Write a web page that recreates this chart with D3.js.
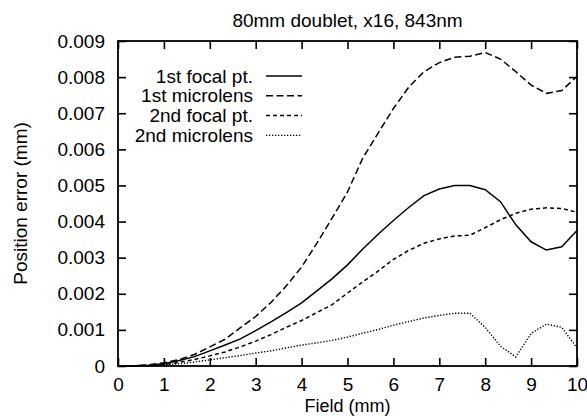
<!DOCTYPE html>
<html>
<head>
<meta charset="utf-8">
<script src="https://cdn.jsdelivr.net/npm/d3@7"></script>
<style>
    body { margin: 0; background: #fff; }
    svg { font-family: "Liberation Sans", Arial, Helvetica, sans-serif; }
    .axis path, .axis line { stroke: #000; }
    .axis text { font-size: 19px; fill: #000; }
</style>
</head>
<body>
<div id="chart"></div>
<script>
// field positions (mm), sampled every 1/3 mm
const field = [0, 0.333, 0.667, 1, 1.333, 1.667, 2, 2.333, 2.667, 3, 3.333, 3.667, 4, 4.333, 4.667, 5,
    5.333, 5.667, 6, 6.333, 6.667, 7, 7.333, 7.667, 8, 8.333, 8.667, 9, 9.333, 9.667, 10];

// position error (mm)
const firstFocal = [0, 0.000005, 0.00002, 0.00006, 0.00015, 0.00026, 0.00042, 0.00058, 0.00075, 0.00098, 0.00122, 0.00148, 0.00175, 0.00208, 0.00242, 0.0028,
    0.00324, 0.00365, 0.00403, 0.00439, 0.00472, 0.0049, 0.005, 0.005, 0.00488, 0.00455, 0.00391, 0.00344, 0.00321, 0.0033, 0.00375];
const firstMicro = [0, 0.000005, 0.00003, 0.00009, 0.00018, 0.00032, 0.00053, 0.00074, 0.00106, 0.00137, 0.00176, 0.00222, 0.00274, 0.0034, 0.0041, 0.00482,
    0.00576, 0.00645, 0.00713, 0.00772, 0.00815, 0.0084, 0.00855, 0.00858, 0.00868, 0.0085, 0.00815, 0.00778, 0.00755, 0.00763, 0.00802];
const secondFocal = [0, 0.000003, 0.00001, 0.00004, 0.0001, 0.00018, 0.00028, 0.00039, 0.00053, 0.00069, 0.00087, 0.00107, 0.00126, 0.00148, 0.0017, 0.00202,
    0.00233, 0.00263, 0.00295, 0.0032, 0.0034, 0.00352, 0.0036, 0.00362, 0.00383, 0.00405, 0.00423, 0.00434, 0.00438, 0.00436, 0.00426];
const secondMicro = [0, 0.000003, 0.00001, 0.00003, 0.00006, 0.00011, 0.00017, 0.00023, 0.00029, 0.00036, 0.00042, 0.0005, 0.00058, 0.00064, 0.00071, 0.0008,
    0.00091, 0.00101, 0.00113, 0.00123, 0.00133, 0.0014, 0.00146, 0.00146, 0.00107, 0.00055, 0.00025, 0.0009, 0.00116, 0.00107, 0.0005];

const seriesNames = ["1st focal pt.", "1st microlens", "2nd focal pt.", "2nd microlens"];
const seriesValues = [firstFocal, firstMicro, secondFocal, secondMicro];
const dashes = ["none", "7,3.5", "4,3", "1.3,1.7"];

const xTicks = [0, 1, 2, 3, 4, 5, 6, 7, 8, 9, 10];
const yTicks = [0, 0.001, 0.002, 0.003, 0.004, 0.005, 0.006, 0.007, 0.008, 0.009];

const titleText = "80mm doublet, x16, 843nm";
const xLabel = "Field (mm)";
const yLabel = "Position error (mm)";

let width = 587, height = 416;
let margin = { top: 41, right: 10, bottom: 50, left: 118 };
let innerW = width - margin.left - margin.right;
let innerH = height - margin.top - margin.bottom;

let svg = d3.select("#chart")
    .append("svg")
    .attr("width", width)
    .attr("height", height);

let g = svg.append("g")
    .attr("transform", `translate(${margin.left},${margin.top})`);

let x = d3.scaleLinear().domain([0, 10]).range([0, innerW]);
let y = d3.scaleLinear().domain([0, 0.009]).range([innerH, 0]);

let tickLen = 8;

// bottom axis with labels, ticks pointing inward
g.append("g")
    .attr("class", "axis x-axis")
    .attr("transform", "translate(0," + innerH + ")")
    .call(d3.axisBottom(x).tickValues(xTicks).tickSizeInner(-tickLen).tickSizeOuter(0).tickPadding(12).tickFormat(d => d))
    .call(a => a.select(".domain").remove());

// top mirror ticks
g.append("g")
    .attr("class", "axis")
    .call(d3.axisTop(x).tickValues(xTicks).tickSizeInner(-tickLen).tickSizeOuter(0).tickFormat(""))
    .call(a => a.select(".domain").remove());

// left axis with labels
g.append("g")
    .attr("class", "axis y-axis")
    .call(d3.axisLeft(y).tickValues(yTicks).tickSizeInner(-tickLen).tickSizeOuter(0).tickPadding(13).tickFormat(d => d === 0 ? "0" : d3.format(".3f")(d)))
    .call(a => a.select(".domain").remove());

// right mirror ticks
g.append("g")
    .attr("class", "axis")
    .attr("transform", "translate(" + innerW + ",0)")
    .call(d3.axisRight(y).tickValues(yTicks).tickSizeInner(-tickLen).tickSizeOuter(0).tickFormat(""))
    .call(a => a.select(".domain").remove());

g.selectAll(".axis .tick line").attr("stroke-width", 1.6);

// frame
g.append("rect")
    .attr("width", innerW)
    .attr("height", innerH)
    .attr("fill", "none")
    .attr("stroke", "#000")
    .attr("stroke-width", 1.8);

// curves
let line = d3.line()
    .x((d, i) => x(field[i]))
    .y(d => y(d));

g.selectAll("path.curve")
    .data(seriesValues)
    .enter()
    .append("path")
    .attr("class", "curve")
    .attr("d", d => line(d))
    .attr("fill", "none")
    .attr("stroke", "#000")
    .attr("stroke-width", (d, i) => i === 3 ? 1.4 : 1.5)
    .attr("stroke-dasharray", (d, i) => dashes[i]);

// legend
let key = g.append("g")
    .attr("transform", "translate(0, 35)");

let rows = key.selectAll("g.row")
    .data(seriesNames)
    .enter()
    .append("g")
    .attr("class", "row")
    .attr("transform", (d, i) => "translate(0," + (i * 19.8) + ")");

rows.append("text")
    .attr("x", 135)
    .attr("dy", "0.35em")
    .attr("text-anchor", "end")
    .style("font-size", "19px")
    .text(d => d);

rows.append("line")
    .attr("x1", 148)
    .attr("x2", 184)
    .attr("stroke", "#000")
    .attr("stroke-width", (d, i) => i === 3 ? 1.4 : 1.5)
    .attr("stroke-dasharray", (d, i) => dashes[i]);

// title and axis labels
svg.append("text")
    .attr("x", margin.left + innerW / 2)
    .attr("y", 27)
    .attr("text-anchor", "middle")
    .style("font-size", "19px")
    .text(titleText);

svg.append("text")
    .attr("x", margin.left + innerW / 2)
    .attr("y", 412)
    .attr("text-anchor", "middle")
    .style("font-size", "18px")
    .text(xLabel);

svg.append("text")
    .attr("transform", "rotate(-90)")
    .attr("x", -(margin.top + innerH / 2))
    .attr("y", 27)
    .attr("text-anchor", "middle")
    .style("font-size", "19px")
    .text(yLabel);
</script>
</body>
</html>
